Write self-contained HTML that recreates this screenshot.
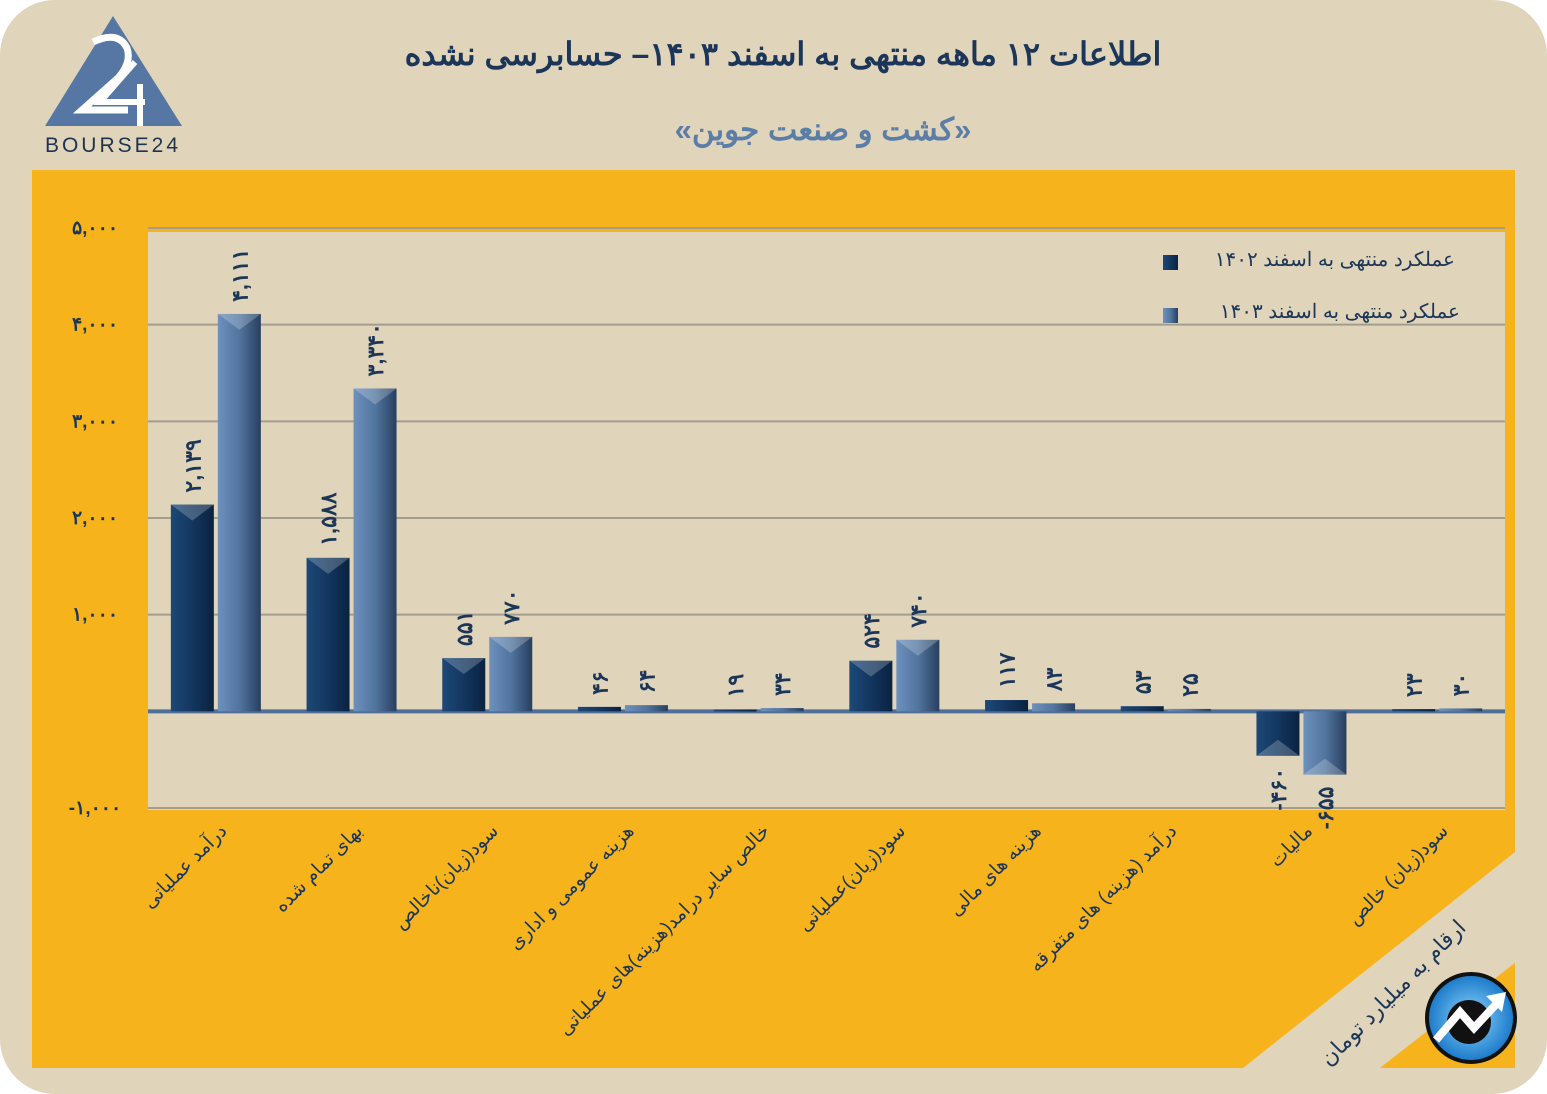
<!DOCTYPE html>
<html><head><meta charset="utf-8"><style>
html,body{margin:0;padding:0;background:#fff;}
svg{display:block;font-family:"Liberation Sans","Noto Sans CJK SC",sans-serif;}
</style></head><body>
<svg id="chart" width="1547" height="1094" viewBox="0 0 1547 1094" xmlns="http://www.w3.org/2000/svg">
<defs>
<linearGradient id="gDark" x1="0" x2="1" y1="0" y2="0">
<stop offset="0" stop-color="#1d4877"/><stop offset="0.5" stop-color="#13365f"/><stop offset="1" stop-color="#0a2240"/></linearGradient>
<linearGradient id="gLight" x1="0" x2="1" y1="0" y2="0">
<stop offset="0" stop-color="#6d90bd"/><stop offset="0.5" stop-color="#52759f"/><stop offset="1" stop-color="#283f5e"/></linearGradient>
<radialGradient id="gIcon" cx="0.5" cy="0.5" r="0.5"><stop offset="0" stop-color="#8fd6ff"/><stop offset="1" stop-color="#1878c8"/></radialGradient>
</defs>
<rect x="0" y="0" width="1547" height="1094" rx="55" fill="#e0d4ba"/>
<rect x="32" y="170" width="1483" height="898" fill="#f6b31c"/>
<polygon points="1243,1068 1515,852 1515,963 1380,1068" fill="#e0d4ba"/>
<rect x="148" y="232" width="1357" height="578" fill="#e0d4ba"/>
<g id="grid"></g>
<g id="bars"></g>
<g id="labels"></g>
<g>
<polygon points="113,16 45,126 182,126" fill="#5677a3"/>
<path d="M93,42 Q118,30 127,48 Q132,62 118,78 L82,110 L128,110" fill="none" stroke="#fff" stroke-width="7"/>
<path d="M135,62 L100,102 L145,102 M140,84 L140,126" fill="none" stroke="#fff" stroke-width="6"/>
<text x="113" y="152" text-anchor="middle" font-size="21" fill="#1e3350" letter-spacing="3">BOURSE24</text>
</g>
<text x="783" y="65" text-anchor="middle" font-size="32" font-weight="bold" fill="#1b3658">اطلاعات ۱۲ ماهه منتهی به اسفند ۱۴۰۳– حسابرسی نشده</text>
<text x="823" y="140" text-anchor="middle" font-size="31" font-weight="bold" fill="#5b7ea8">«کشت و صنعت جوین»</text>
<g>
<rect x="1163" y="255" width="15" height="15" fill="url(#gDark)"/>
<text x="1455" y="266" text-anchor="end" font-size="20" fill="#1b3658">عملکرد منتهی به اسفند ۱۴۰۲</text>
<rect x="1163" y="308" width="15" height="15" fill="url(#gLight)"/>
<text x="1460" y="318" text-anchor="end" font-size="20" fill="#1b3658">عملکرد منتهی به اسفند ۱۴۰۳</text>
</g>
<text transform="translate(1398,998) rotate(-45)" text-anchor="middle" font-size="22" fill="#1b3658">ارقام به میلیارد تومان</text>
<polygon points="1515,963 1515,1068 1380,1068" fill="#f6b31c"/>
<g>
<circle cx="1471" cy="1018" r="44" fill="url(#gIcon)" stroke="#111" stroke-width="4"/>
<circle cx="1469" cy="1022" r="22" fill="#111"/>
<path d="M1436,1040 L1460,1012 L1474,1028 L1500,1000" fill="none" stroke="#fff" stroke-width="8"/>
<polygon points="1506,992 1486,996 1502,1012" fill="#fff"/>
</g>
</svg>
<script>
const categories = ["درآمد عملیاتی","بهای تمام شده","سود(زیان)ناخالص","هزینه عمومی و اداری","خالص سایر درامد(هزینه)های عملیاتی","سود(زیان)عملیاتی","هزینه های مالی","درآمد (هزینه) های متفرقه","مالیات","سود(زیان) خالص"];
const values1402 = [2139,1588,551,46,19,524,117,53,-460,23];
const values1403 = [4111,3340,770,64,34,740,83,25,-655,30];
const yTicks = [-1000,0,1000,2000,3000,4000,5000];

const NS = "http://www.w3.org/2000/svg";
const X0 = 148, X1 = 1505, Y_MIN = -1000, Y_MAX = 5000, PY0 = 808, PY1 = 228;
const yScale = v => PY0 - (v - Y_MIN) / (Y_MAX - Y_MIN) * (PY0 - PY1);
const band = (X1 - X0) / categories.length;
const xCenter = i => X0 + band * (i + 0.5);
const fa = s => String(s).replace(/\d/g, d => "۰۱۲۳۴۵۶۷۸۹"[d]);
const LRO = "\u202D", PDF = "\u202C";
const fmtVal = v => LRO + (v < 0 ? "-" : "") + fa(Math.abs(v).toLocaleString("en-US")) + PDF;
function mk(tag, attrs, parent) { const e = document.createElementNS(NS, tag); for (const k in attrs) e.setAttribute(k, attrs[k]); parent.appendChild(e); return e; }

const grid = document.getElementById("grid"), bars = document.getElementById("bars"), labels = document.getElementById("labels");
yTicks.forEach(t => {
  const y = yScale(t);
  if (t === 0) return;
  const l = mk("line", {x1: X0, x2: X1, y1: y, y2: y, stroke: "#a39d90", "stroke-width": 2}, grid);
  
  
  const tx = mk("text", {x: 95, y: y + 6, "text-anchor": "middle", "font-size": 19, "font-weight": "bold", fill: "#1b3658"}, grid);
  tx.textContent = fmtVal(t);
  
  
});

function drawBar(i, v, left, grad, series) {
  const w = 43, x = left;
  const y0 = yScale(0), yv = yScale(v);
  const top = Math.min(y0, yv), h = Math.max(2, Math.abs(y0 - yv));
  const r = mk("rect", {x: x, y: top, width: w, height: h, fill: grad}, bars);
  
  
  if (h > 20) {
    const tipY = v >= 0 ? top : top + h;
    const dir = v >= 0 ? 1 : -1;
    const tri = mk("polygon", {points: `${x},${tipY} ${x + w},${tipY} ${x + w / 2},${tipY + dir * 16}`, fill: "#ffffff", opacity: 0.22}, bars);
    
    
  }
  const cx = x + w / 2;
  let t;
  if (v >= 0) {
    t = mk("text", {transform: `translate(${cx + 8},${top - 12}) rotate(-90)`, "text-anchor": "start", "font-size": 22, "font-weight": "bold", fill: "#1b3658"}, labels);
  } else {
    t = mk("text", {transform: `translate(${cx + 8},${top + h + 12}) rotate(-90)`, "text-anchor": "end", "font-size": 22, "font-weight": "bold", fill: "#1b3658"}, labels);
  }
  t.textContent = fmtVal(v);
  
  
}
categories.forEach((c, i) => {
  const gc = xCenter(i);
  drawBar(i, values1402[i], gc - 45, "url(#gDark)", "1402");
  drawBar(i, values1403[i], gc + 2, "url(#gLight)", "1403");
  const t = mk("text", {transform: `translate(${gc + 12},${832}) rotate(-45)`, "text-anchor": "end", "font-size": 19, fill: "#1b3658"}, labels);
  t.textContent = c;
  
  
});
const zl = mk("line", {x1: X0, x2: X1, y1: yScale(0), y2: yScale(0), stroke: "#4f6f98", "stroke-width": 4}, grid);


</script>
</body></html>
